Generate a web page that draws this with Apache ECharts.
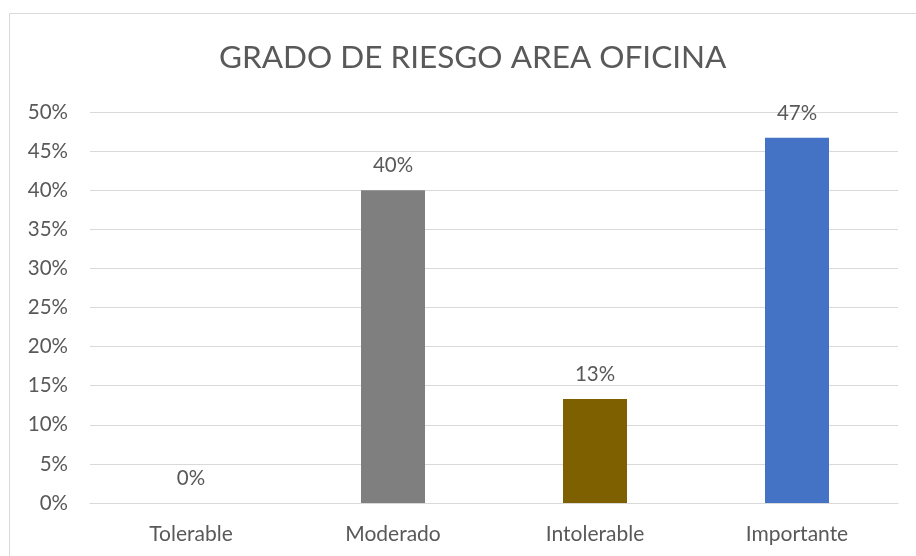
<!DOCTYPE html>
<html>
<head>
<meta charset="utf-8">
<script src="https://cdn.jsdelivr.net/npm/echarts@6/dist/echarts.min.js"></script>
<style>
  html, body { margin: 0; padding: 0; background: #fff; }
  #chart { width: 916px; height: 556px; }
</style>
</head>
<body>
<div id="chart"></div>
<script>
var categories = ['Tolerable', 'Moderado', 'Intolerable', 'Importante'];
var values = [0, 40, 13.3, 46.7];
var barColors = ['#4472c4', '#7f7f7f', '#7f6000', '#4472c4'];
var chartTitle = 'GRADO DE RIESGO AREA OFICINA';

var myChart = echarts.init(document.getElementById('chart'));
var textColor = '#595959';
var fontName = 'Lato, "Open Sans", sans-serif';

var option = {
    animation: false,
    title: {
        text: chartTitle,
        left: 214,
        top: 37,
        textStyle: { color: textColor, fontSize: 31.5, fontWeight: 'normal', fontFamily: fontName }
    },
    graphic: [{
        type: 'rect',
        shape: { x: 9.5, y: 13.5, width: 1000, height: 1000 },
        style: { fill: 'none', stroke: '#d9d9d9', lineWidth: 1 },
        silent: true
    }],
    grid: { left: 90, right: 18, top: 112, bottom: 53 },
    xAxis: {
        type: 'category',
        data: categories,
        axisLine: { lineStyle: { color: '#d9d9d9' } },
        axisTick: { show: false },
        axisLabel: { color: textColor, fontSize: 21, fontFamily: fontName, margin: 21 }
    },
    yAxis: {
        type: 'value',
        min: 0,
        max: 50,
        interval: 5,
        axisLine: { show: false },
        axisTick: { show: false },
        splitLine: { lineStyle: { color: '#d9d9d9' } },
        axisLabel: {
            color: textColor, fontSize: 20.5, fontFamily: fontName, margin: 22,
            formatter: function (v) { return v + '%'; }
        }
    },
    series: [{
        type: 'bar',
        barWidth: 64,
        data: values.map(function (v, i) {
            return { value: v, itemStyle: { color: barColors[i] } };
        }),
        label: {
            show: true,
            position: 'top',
            distance: 14,
            color: textColor,
            fontSize: 20.5,
            fontFamily: fontName,
            formatter: function (p) { return Math.round(p.value) + '%'; }
        }
    }]
};

myChart.setOption(option);
</script>
</body>
</html>
